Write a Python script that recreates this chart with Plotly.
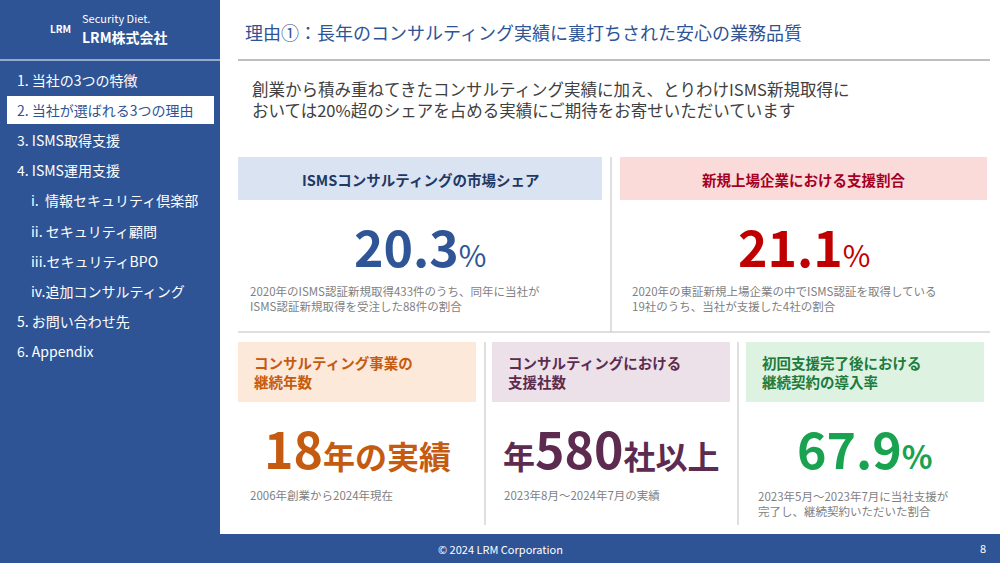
import plotly.graph_objects as go

FONT = "Noto Sans CJK JP"
BLUE = "#2E5496"

menu_items = ["1. 当社の3つの特徴", "2. 当社が選ばれる3つの理由", "3. ISMS取得支援", "4. ISMS運用支援",
              "i.  情報セキュリティ倶楽部", "ii. セキュリティ顧問", "iii.セキュリティBPO", "iv.追加コンサルティング",
              "5. お問い合わせ先", "6. Appendix"]
menu_indent = [0, 0, 0, 0, 1, 1, 1, 1, 0, 0]
active_item = 1

top_titles = ["ISMSコンサルティングの市場シェア", "新規上場企業における支援割合"]
top_values = ["20.3", "21.1"]
top_units = ["%", "%"]
top_desc = ["2020年のISMS認証新規取得433件のうち、同年に当社が<br>ISMS認証新規取得を受注した88件の割合",
            "2020年の東証新規上場企業の中でISMS認証を取得している<br>19社のうち、当社が支援した4社の割合"]
top_fill = ["#DAE3F1", "#FBDADA"]
top_col = ["#1F3864", "#A50021"]
top_val_col = ["#2F5597", "#C00000"]

bot_titles = ["コンサルティング事業の<br>継続年数", "コンサルティングにおける<br>支援社数", "初回支援完了後における<br>継続契約の導入率"]
bot_value_parts = [[("18", 50), ("年の実績", 32)], [("年", 32), ("580", 50), ("社以上", 32)], [("67.9", 50), ("%", 32)]]
bot_desc = ["2006年創業から2024年現在", "2023年8月～2024年7月の実績", "2023年5月～2023年7月に当社支援が<br>完了し、継続契約いただいた割合"]
bot_fill = ["#FCE9DA", "#ECE1E8", "#DDF2E1"]
bot_col = ["#C55A11", "#5E2B50", "#1E7B3C"]
bot_val_col = ["#C55A11", "#5E2B50", "#19A24F"]

fig = go.Figure()
shapes = []
ann = []

def rect(x0, y0, x1, y1, fill, line=None, w=0):
    shapes.append(dict(type="rect", x0=x0, y0=y0, x1=x1, y1=y1, fillcolor=fill,
                       line=dict(color=line or fill, width=w), layer="below"))

def line(x0, y0, x1, y1, c="#BFBFBF", w=1):
    shapes.append(dict(type="line", x0=x0, y0=y0, x1=x1, y1=y1, line=dict(color=c, width=w)))

def text(x, y, t, size, color, xa="left", bold=False, ya="middle"):
    if bold:
        t = "<b>" + t + "</b>"
    ann.append(dict(x=x, y=y, text=t, showarrow=False, xanchor=xa, yanchor=ya, align=xa,
                    font=dict(size=size, color=color, family=FONT)))

# sidebar & footer
rect(0, 0, 220, 563, BLUE)
rect(0, 534, 1000, 563, BLUE)
line(0, 60, 220, 60, "white", 1)
text(80, 18, "Security Diet.", 11, "white")
text(80, 37, "LRM株式会社", 14, "white", bold=True)
text(60, 28, "LRM", 10, "white", xa="center", bold=True)
for i, (m, ind) in enumerate(zip(menu_items, menu_indent)):
    y = 80 + i * 30.1
    if i == active_item:
        shapes.append(dict(type="rect", x0=6, y0=y - 15, x1=215, y1=y + 15, fillcolor="white",
                           line=dict(color=BLUE, width=2)))
        text(15, y, m, 14, BLUE)
    else:
        text(15 + ind * 14, y, m, 14, "white")
text(500, 549, "© 2024 LRM Corporation", 11, "white", xa="center")
text(988, 548, "8", 11, "white", xa="right")

# title
text(243, 32, "理由①：長年のコンサルティング実績に裏打ちされた安心の業務品質", 18, BLUE)
line(238, 60, 990, 60, "#7F7F7F", 1)
text(250, 99, "創業から積み重ねてきたコンサルティング実績に加え、とりわけISMS新規取得に<br>おいては20%超のシェアを占める実績にご期待をお寄せいただいています", 16.5, "#404040")

# top cards
tops = [(238, 602), (620, 987)]
for i, (x0, x1) in enumerate(tops):
    rect(x0, 157, x1, 200, top_fill[i])
    text((x0 + x1) / 2, 179, top_titles[i], 14.5, top_col[i], xa="center", bold=True)
    text((x0 + x1) / 2, 245, f"<b><span style='font-size:50px'>{top_values[i]}</span></b><span style='font-size:30px'>{top_units[i]}</span>",
         50, top_val_col[i], xa="center")
    text(x0 + 10, 298, top_desc[i], 11.5, "#7F7F7F")
line(611, 157, 611, 332)
line(238, 332, 990, 332)

# bottom cards
bots = [(238, 476), (492, 730), (746, 984)]
for i, (x0, x1) in enumerate(bots):
    rect(x0, 342, x1, 402, bot_fill[i])
    text(x0 + 14, 372, bot_titles[i], 14.5, bot_col[i], bold=True)
    t = "".join(f"<span style='font-size:{s}px'>{p}</span>" for p, s in bot_value_parts[i])
    text((x0 + x1) / 2, 447, "<b>" + t + "</b>", 50, bot_val_col[i], xa="center")
    text(x0 + 10, 503 if "<br>" in bot_desc[i] else 495, bot_desc[i], 11.5, "#7F7F7F")
line(485, 342, 485, 525)
line(738, 342, 738, 525)

fig.update_layout(width=1000, height=563, margin=dict(l=0, r=0, t=0, b=0),
                  paper_bgcolor="white", plot_bgcolor="white", shapes=shapes, annotations=ann,
                  xaxis=dict(range=[0, 1000], visible=False, fixedrange=True),
                  yaxis=dict(range=[563, 0], visible=False, fixedrange=True),
                  showlegend=False)
fig.write_html("out.html", config={"displayModeBar": False},
               post_script="document.body.style.margin='0';document.body.style.overflow='hidden';")
